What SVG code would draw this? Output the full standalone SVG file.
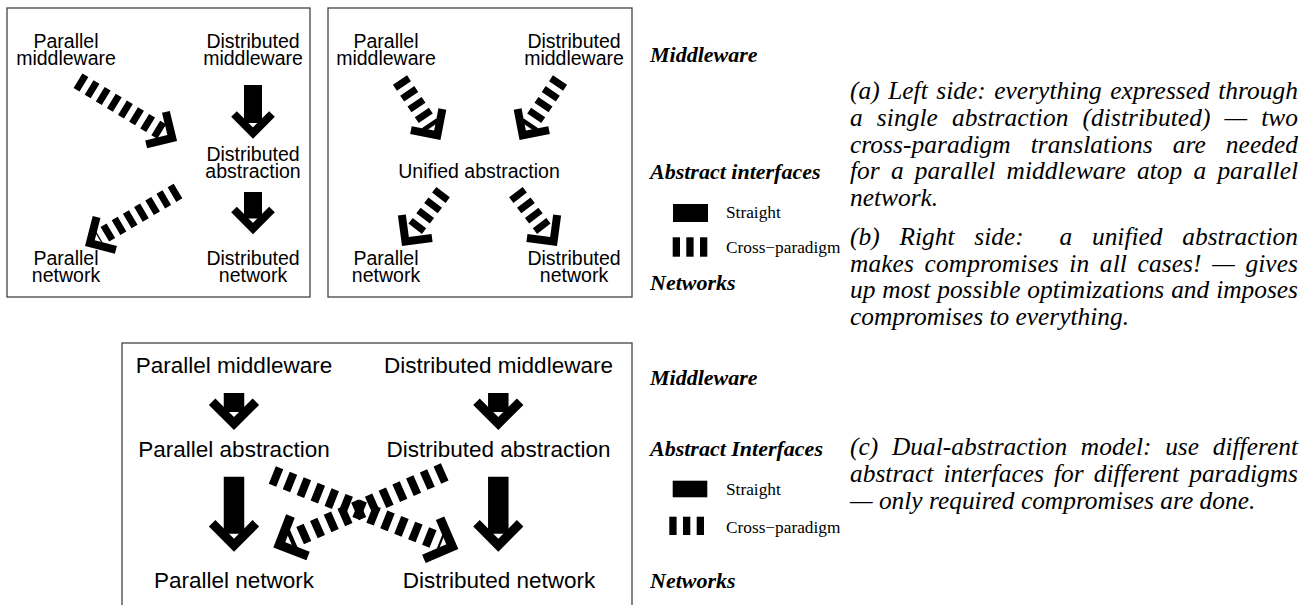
<svg xmlns="http://www.w3.org/2000/svg" width="1307" height="605" viewBox="0 0 1307 605">
<style>
.lbl{font-family:"Liberation Sans",Arial,sans-serif;font-size:19.5px;text-anchor:middle;fill:#000}
.lblc{font-size:22.5px}
.hd{font-family:"Liberation Serif","Times New Roman",serif;font-weight:bold;font-style:italic;font-size:22px;fill:#000}
.lg{font-family:"Liberation Serif","Times New Roman",serif;font-size:17.3px;fill:#000}
.par{font-family:"Liberation Serif","Times New Roman",serif;font-style:italic;font-size:25.4px;fill:#000}
.box{fill:#fff;stroke:#444;stroke-width:1.3}
.st{stroke:#000;stroke-width:18;fill:none;marker-end:url(#hd)}
.ds{stroke:#000;stroke-width:17;stroke-dasharray:7 6;fill:none;marker-end:url(#hd)}
.stc{stroke:#000;stroke-width:20.5;fill:none;marker-end:url(#hdc)}
.dsc{stroke:#000;stroke-width:19;stroke-dasharray:8 7;fill:none;marker-end:url(#hdc)}
</style>
<defs>
<marker id="hd" markerUnits="userSpaceOnUse" orient="auto" refX="0" refY="0" markerWidth="60" markerHeight="60" overflow="visible">
<path d="M -9 -19 L 10 0 L -9 19" fill="none" stroke="#000" stroke-width="8" stroke-linejoin="miter"/>
</marker>
<marker id="hdc" markerUnits="userSpaceOnUse" orient="auto" refX="0" refY="0" markerWidth="60" markerHeight="60" overflow="visible">
<path d="M -10.35 -21.85 L 11.5 0 L -10.35 21.85" fill="none" stroke="#000" stroke-width="9.2" stroke-linejoin="miter"/>
</marker>
</defs>
<rect width="1307" height="605" fill="#fff"/>

<g id="panels">
<rect id="panel-a" class="box" x="7" y="8" width="303" height="289"/>
<rect id="panel-b" class="box" x="328" y="8" width="304" height="289"/>
<rect id="panel-c" class="box" x="122" y="343" width="510" height="280"/>
</g>

<g id="connectors">
<line class="st" x1="253" y1="85" x2="253" y2="123"/>
<line class="st" x1="253" y1="192" x2="253" y2="218.5"/>
<line class="ds" x1="78" y1="80.7" x2="163.7" y2="132.8"/>
<line class="ds" x1="178" y1="191" x2="98.5" y2="238"/>
<line class="ds" x1="400" y1="80.1" x2="431.7" y2="127"/>
<line class="ds" x1="560" y1="80.1" x2="528.3" y2="127"/>
<line class="ds" x1="443.1" y1="192.2" x2="411.5" y2="233.6"/>
<line class="ds" x1="515.9" y1="192.2" x2="547.5" y2="233.6"/>
<line class="stc" x1="234" y1="393" x2="234" y2="412"/>
<line class="stc" x1="498.3" y1="393" x2="498.3" y2="412"/>
<line class="stc" x1="234" y1="476.7" x2="234" y2="533.7"/>
<line class="stc" x1="498.3" y1="476.7" x2="498.3" y2="533.7"/>
<line class="dsc" x1="272.3" y1="475" x2="441.6" y2="542.4"/>
<line class="dsc" x1="444.7" y1="471.9" x2="289.8" y2="540.2"/>
</g>

<g id="a-par-mw"><text class="lbl" x="66" y="48">Parallel</text><text class="lbl" x="66" y="65">middleware</text></g>
<g id="a-dist-mw"><text class="lbl" x="253" y="48">Distributed</text><text class="lbl" x="253" y="65">middleware</text></g>
<g id="a-dist-abs"><text class="lbl" x="253" y="161">Distributed</text><text class="lbl" x="253" y="178">abstraction</text></g>
<g id="a-par-net"><text class="lbl" x="66" y="265">Parallel</text><text class="lbl" x="66" y="282">network</text></g>
<g id="a-dist-net"><text class="lbl" x="253" y="265">Distributed</text><text class="lbl" x="253" y="282">network</text></g>

<g id="b-par-mw"><text class="lbl" x="386" y="48">Parallel</text><text class="lbl" x="386" y="65">middleware</text></g>
<g id="b-dist-mw"><text class="lbl" x="574" y="48">Distributed</text><text class="lbl" x="574" y="65">middleware</text></g>
<g id="b-unified"><text class="lbl" x="479" y="178">Unified abstraction</text></g>
<g id="b-par-net"><text class="lbl" x="386" y="265">Parallel</text><text class="lbl" x="386" y="282">network</text></g>
<g id="b-dist-net"><text class="lbl" x="574" y="265">Distributed</text><text class="lbl" x="574" y="282">network</text></g>

<g id="c-par-mw"><text class="lbl lblc" x="234" y="373">Parallel middleware</text></g>
<g id="c-dist-mw"><text class="lbl lblc" x="498.5" y="373">Distributed middleware</text></g>
<g id="c-par-abs"><text class="lbl lblc" x="234" y="457">Parallel abstraction</text></g>
<g id="c-dist-abs"><text class="lbl lblc" x="498.5" y="457">Distributed abstraction</text></g>
<g id="c-par-net"><text class="lbl lblc" x="234" y="588">Parallel network</text></g>
<g id="c-dist-net"><text class="lbl lblc" x="499" y="588">Distributed network</text></g>

<g id="legend-top">
<text class="hd" x="650" y="62">Middleware</text>
<text class="hd" x="650" y="179">Abstract interfaces</text>
<rect x="673" y="204" width="35" height="18" fill="#000"/>
<text class="lg" x="726" y="218">Straight</text>
<rect x="672.7" y="237.3" width="7.3" height="19.4" fill="#000"/>
<rect x="686.3" y="237.3" width="7.3" height="19.4" fill="#000"/>
<rect x="700" y="237.3" width="7.3" height="19.4" fill="#000"/>
<text class="lg" x="726" y="253">Cross−paradigm</text>
<text class="hd" x="650" y="290">Networks</text>
</g>

<g id="legend-bottom">
<text class="hd" x="650" y="385">Middleware</text>
<text class="hd" x="650" y="456">Abstract Interfaces</text>
<rect x="672.7" y="480.7" width="34.6" height="16.6" fill="#000"/>
<text class="lg" x="726" y="495">Straight</text>
<rect x="669.3" y="516.7" width="7.3" height="18.3" fill="#000"/>
<rect x="683" y="516.7" width="7.3" height="18.3" fill="#000"/>
<rect x="696.7" y="516.7" width="7.3" height="18.3" fill="#000"/>
<text class="lg" x="726" y="533">Cross−paradigm</text>
<text class="hd" x="650" y="588">Networks</text>
</g>

<g id="caption-a">
<text class="par" x="850" y="99" word-spacing="1.98" textLength="448" lengthAdjust="spacing">(a) Left side: everything expressed through</text>
<text class="par" x="850" y="126" word-spacing="7.6" textLength="448" lengthAdjust="spacing">a single abstraction (distributed) — two</text>
<text class="par" x="850" y="153" word-spacing="13.6" textLength="448" lengthAdjust="spacing">cross-paradigm translations are needed</text>
<text class="par" x="850" y="179" word-spacing="4.8" textLength="448" lengthAdjust="spacing">for a parallel middleware atop a parallel</text>
<text class="par" x="850" y="206">network.</text>
</g>
<g id="caption-b">
<text class="par" x="850" y="245" word-spacing="13.5">(b) Right side:</text>
<text class="par" x="1298" y="245" word-spacing="13.5" text-anchor="end">a unified abstraction</text>
<text class="par" x="850" y="272" word-spacing="4.1" textLength="448" lengthAdjust="spacing">makes compromises in all cases! — gives</text>
<text class="par" x="850" y="298" word-spacing="0.56" textLength="448" lengthAdjust="spacing">up most possible optimizations and imposes</text>
<text class="par" x="850" y="325">compromises to everything.</text>
</g>
<g id="caption-c">
<text class="par" x="850" y="455" word-spacing="7.25" textLength="448" lengthAdjust="spacing">(c) Dual-abstraction model: use different</text>
<text class="par" x="850" y="482" word-spacing="3.7" textLength="448" lengthAdjust="spacing">abstract interfaces for different paradigms</text>
<text class="par" x="850" y="509">— only required compromises are done.</text>
</g>
</svg>
